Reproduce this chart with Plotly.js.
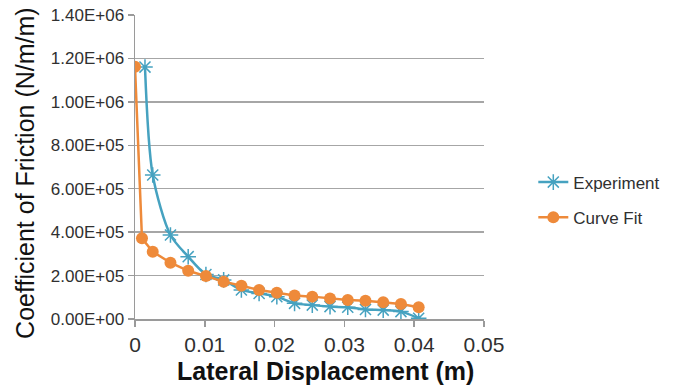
<!DOCTYPE html>
<html><head><meta charset="utf-8">
<script src="https://cdn.plot.ly/plotly-3.0.1.min.js"></script>
<style>html,body{margin:0;padding:0;background:#fff}#c{width:676px;height:387px}</style>
</head><body><div id="c"></div>
<script>
const expX = [0.00143, 0.00254, 0.00508, 0.00762, 0.01016, 0.0127, 0.01524, 0.01778, 0.02032, 0.02286, 0.0254, 0.02794, 0.03048, 0.03302, 0.03556, 0.0381, 0.04064];
const expY = [1160000, 663000, 387000, 287000, 205000, 180000, 134000, 118000, 103000, 72000, 64000, 57000, 54000, 44000, 41000, 34000, 3000];
const fitX = [0, 0.001, 0.00254, 0.00508, 0.00762, 0.01016, 0.0127, 0.01524, 0.01778, 0.02032, 0.02286, 0.0254, 0.02794, 0.03048, 0.03302, 0.03556, 0.0381, 0.04064];
const fitY = [1162000, 372000, 310000, 259000, 222000, 198000, 172000, 153000, 134000, 121000, 108000, 103000, 94000, 87500, 84000, 77000, 69000, 54000];
const yTickVals = [0, 200000, 400000, 600000, 800000, 1000000, 1200000, 1400000];
const yTickText = ["0.00E+00","2.00E+05","4.00E+05","6.00E+05","8.00E+05","1.00E+06","1.20E+06","1.40E+06"];
const xTickVals = [0, 0.01, 0.02, 0.03, 0.04, 0.05];
const xTickText = ["0","0.01","0.02","0.03","0.04","0.05"];
const xTitle = 'Lateral Displacement (m)';
const yTitle = 'Coefficient of Friction (N/m/m)';

const blue = '#46a2c0', orange = '#ee8a3a';
const F = 'Liberation Sans, Arial, sans-serif';
const traces = [
  {x: expX, y: expY, name: 'Experiment', type: 'scatter', mode: 'lines+markers', legendgroup: 'a',
   line: {color: blue, width: 2.5, shape: 'spline', smoothing: 0.8},
   marker: {symbol: 'asterisk-open', size: 13, color: blue, line: {color: blue, width: 1.5}}},
  {x: fitX, y: fitY, name: 'Curve Fit', type: 'scatter', mode: 'lines+markers', legendgroup: 'b',
   line: {color: orange, width: 2.5},
   marker: {symbol: 'circle', size: 12, color: orange}}
];
const layout = {
  width: 676, height: 387,
  margin: {l: 135, r: 191, t: 15, b: 68},
  paper_bgcolor: '#fff', plot_bgcolor: '#fff',
  font: {family: F, color: '#404040'},
  showlegend: true,
  legend: {x: 1.138, y: 0.508, xanchor: 'left', yanchor: 'top', tracegroupgap: 10,
           font: {size: 17, color: '#303030'}, bgcolor: 'rgba(0,0,0,0)'},
  xaxis: {range: [0, 0.05], tickvals: xTickVals, ticktext: xTickText,
          showgrid: false, zeroline: false, showline: true, linecolor: '#9a9a9a', linewidth: 1.5,
          ticks: 'outside', ticklen: 6, tickcolor: '#9a9a9a', tickwidth: 1.5,
          tickfont: {size: 21, color: '#303030'}},
  yaxis: {range: [0, 1400000], tickvals: yTickVals, ticktext: yTickText,
          showgrid: true, gridcolor: '#a6a6a6', gridwidth: 1.5, zeroline: false,
          showline: true, linecolor: '#9a9a9a', linewidth: 1.5,
          ticks: 'outside', ticklen: 6, tickcolor: '#9a9a9a', tickwidth: 1.5,
          tickfont: {size: 17, color: '#303030'}},
  annotations: [
    {text: xTitle, xref: 'paper', yref: 'paper', x: 0.547, y: -0.171, xanchor: 'center', yanchor: 'middle',
     showarrow: false, font: {size: 25, color: '#111', family: F, weight: 'bold'}},
    {text: yTitle, xref: 'paper', yref: 'paper', x: -0.314, y: 0.482, xanchor: 'center', yanchor: 'middle',
     textangle: -90, showarrow: false, font: {size: 25, color: '#111', family: F}}
  ]
};
Plotly.newPlot('c', traces, layout, {displayModeBar: false, staticPlot: true});
</script></body></html>
